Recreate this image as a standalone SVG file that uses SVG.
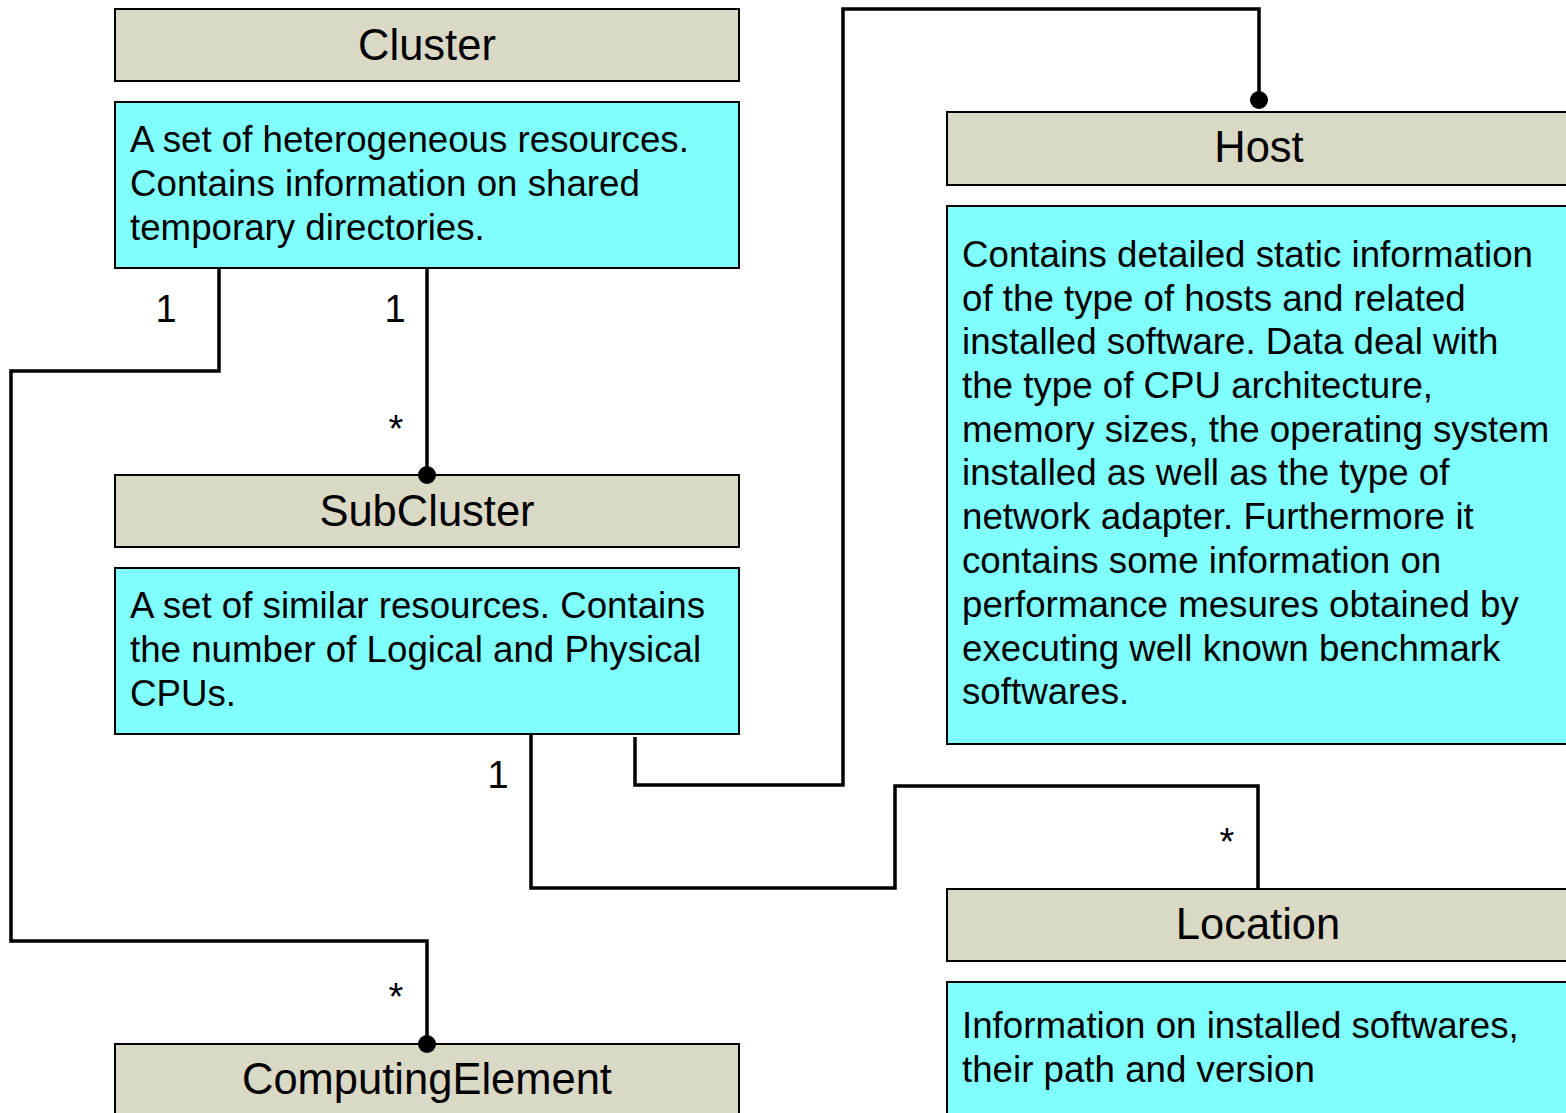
<svg xmlns="http://www.w3.org/2000/svg" width="1566" height="1113" viewBox="0 0 1566 1113">
<style>
.hdr{fill:#dad9c6;stroke:#000;stroke-width:2}
.body{fill:#80ffff;stroke:#000;stroke-width:2}
.ht{font-family:"Liberation Sans",Arial,sans-serif;font-size:43.5px;fill:#000;text-anchor:middle}
.bt{font-family:"Liberation Sans",Arial,sans-serif;font-size:36.7px;fill:#000}
.lbl{font-family:"Liberation Sans",Arial,sans-serif;font-size:38px;fill:#000;text-anchor:middle}
.conn{fill:none;stroke:#000;stroke-width:3.5;stroke-linejoin:miter}
</style>
<rect width="1566" height="1113" fill="#fff"/>
<g id="cluster">
<rect class="hdr" x="115" y="9" width="624" height="72"/>
<text class="ht" x="427" y="60">Cluster</text>
<rect class="body" x="115" y="102" width="624" height="166"/>
<text class="bt" x="130" y="152">A set of heterogeneous resources.</text>
<text class="bt" x="130" y="196">Contains information on shared</text>
<text class="bt" x="130" y="240">temporary directories.</text>
</g>
<g id="subcluster">
<rect class="hdr" x="115" y="475" width="624" height="72"/>
<text class="ht" x="427" y="526">SubCluster</text>
<rect class="body" x="115" y="568" width="624" height="166"/>
<text class="bt" x="130" y="618">A set of similar resources. Contains</text>
<text class="bt" x="130" y="662">the number of Logical and Physical</text>
<text class="bt" x="130" y="706">CPUs.</text>
</g>
<g id="computingelement">
<rect class="hdr" x="115" y="1044" width="624" height="80"/>
<text class="ht" x="427" y="1094">ComputingElement</text>
</g>
<g id="host">
<rect class="hdr" x="947" y="112" width="630" height="73"/>
<text class="ht" x="1259" y="162">Host</text>
<rect class="body" x="947" y="206" width="630" height="538"/>
<text class="bt" x="962" y="267">Contains detailed static information</text>
<text class="bt" x="962" y="311">of the type of hosts and related</text>
<text class="bt" x="962" y="354">installed software. Data deal with</text>
<text class="bt" x="962" y="398">the type of CPU architecture,</text>
<text class="bt" x="962" y="442">memory sizes, the operating system</text>
<text class="bt" x="962" y="485">installed as well as the type of</text>
<text class="bt" x="962" y="529">network adapter. Furthermore it</text>
<text class="bt" x="962" y="573">contains some information on</text>
<text class="bt" x="962" y="617">performance mesures obtained by</text>
<text class="bt" x="962" y="661">executing well known benchmark</text>
<text class="bt" x="962" y="704">softwares.</text>
</g>
<g id="location">
<rect class="hdr" x="947" y="889" width="630" height="72"/>
<text class="ht" x="1258" y="939">Location</text>
<rect class="body" x="947" y="982" width="630" height="150"/>
<text class="bt" x="962" y="1038">Information on installed softwares,</text>
<text class="bt" x="962" y="1082">their path and version</text>
</g>
<g id="connectors">
<path class="conn" d="M427,268 V475"/>
<circle cx="427" cy="475" r="9"/>
<path class="conn" d="M219,268 V371 H11 V941 H427 V1044"/>
<circle cx="427" cy="1044" r="9"/>
<path class="conn" d="M635,737 V785 H843 V9 H1259 V100"/>
<circle cx="1259" cy="100" r="9"/>
<path class="conn" d="M531,734 V888 H895 V786 H1258 V889"/>
<text class="lbl" x="166" y="322">1</text>
<text class="lbl" x="395" y="322">1</text>
<text class="lbl" x="396" y="442">*</text>
<text class="lbl" x="396" y="1010">*</text>
<text class="lbl" x="498" y="788">1</text>
<text class="lbl" x="1227" y="855">*</text>
</g>
</svg>
